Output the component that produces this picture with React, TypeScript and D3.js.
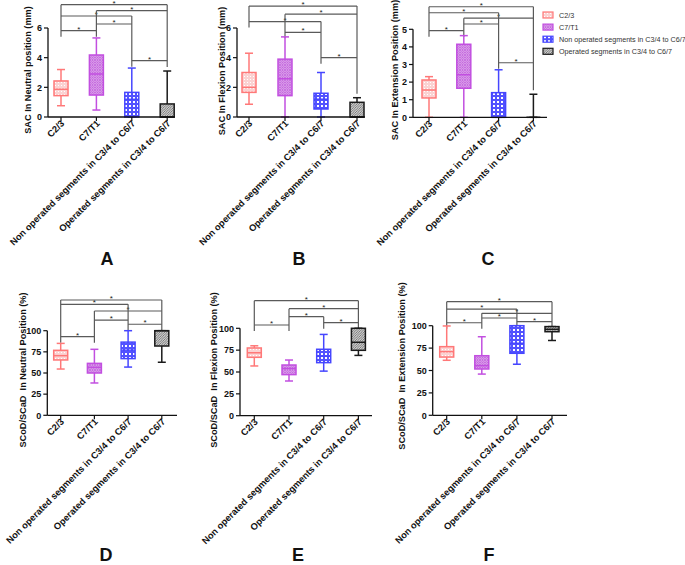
import React from 'react'
import * as d3 from 'd3'

// groups, in plotting order
const categories = [
  'C2/3',
  'C7/T1',
  'Non operated segments in C3/4 to C6/7',
  'Operated segments in C3/4 to C6/7'
]

// box stats per group: [min, q1, median, q3, max]
const sacNeutral = [[0.76, 1.44, 1.87, 2.43, 3.2], [0.47, 1.48, 2.9, 4.18, 5.33], [0, 0, 1.19, 1.66, 3.3], [0, 0, 0, 0.88, 3.1]]
const sacFlexion = [[0.86, 1.66, 2.0, 3.0, 4.3], [0, 1.44, 2.58, 3.9, 5.4], [0, 0.54, 1.2, 1.6, 3.0], [0, 0, 0, 0.99, 1.3]]
const sacExtension = [[0, 1.1, 1.55, 2.12, 2.31], [0, 1.65, 2.42, 4.15, 4.64], [0, 0, 0, 1.4, 2.7], [0, 0, 0, 0, 1.31]]
const scodNeutral = [[54.7, 65.4, 70.5, 76.8, 85], [38.2, 50, 56.7, 61.4, 78], [57, 67, 77, 86.5, 100], [62.7, 81.9, 100, 100, 100]]
const scodFlexion = [[56.9, 66.8, 72, 77.5, 80], [39.7, 47, 54, 58, 63.7], [51, 60.7, 68, 76, 93], [69, 74.8, 84, 100, 100]]
const scodExtension = [[61.4, 65, 71, 76.6, 99.7], [46, 51.7, 55.4, 66.5, 87.7], [57, 69.2, 80.4, 100, 100], [83.5, 93.3, 96, 99, 99]]

// significance brackets: [group a, group b, height in data units]
const sacNeutralPairs = [[0, 3, 7.57], [1, 3, 7.17], [0, 2, 6.81], [1, 2, 6.27], [0, 1, 5.82], [2, 3, 3.8]]
const sacFlexionPairs = [[0, 3, 7.48], [1, 3, 6.93], [0, 2, 6.43], [1, 2, 5.71], [2, 3, 4.0]]
const sacExtensionPairs = [[0, 3, 6.28], [0, 2, 5.94], [1, 3, 5.63], [1, 2, 5.3], [0, 1, 4.92], [2, 3, 3.1]]
const scodNeutralPairs = [[0, 3, 136.3], [0, 2, 131.2], [1, 3, 123.3], [1, 2, 112.6], [2, 3, 107.6], [0, 1, 92.9]]
const scodFlexionPairs = [[0, 3, 131.6], [1, 3, 122.4], [1, 2, 113.3], [2, 3, 106.4], [0, 1, 103.8]]
const scodExtensionPairs = [[0, 3, 126.8], [0, 2, 118.6], [1, 3, 113.8], [1, 2, 108.6], [2, 3, 104.5], [0, 1, 103.3]]

const sacTicks = [0, 2, 4, 6]
const sacExtTicks = [0, 1, 2, 3, 4, 5]
const pctTicks = [0, 25, 50, 75, 100]

const strokes = ['#ff7878', '#c24fe0', '#4646ff', '#1a1a1a']
const font = 'Liberation Sans, Arial, Helvetica, sans-serif'

const panels = [
  { letter: 'A', title: 'SAC In Neutral position (mm)', stats: sacNeutral, pairs: sacNeutralPairs, ticks: sacTicks,
    x0: 48, xEnd: 175, first: 61, step: 35.4, yBot: 117, yTop: 28, tx: 31, ty: 70, lx: 107, ly: 265 },
  { letter: 'B', title: 'SAC In Flexion Position (mm)', stats: sacFlexion, pairs: sacFlexionPairs, ticks: sacTicks,
    x0: 237, xEnd: 365, first: 249, step: 36, yBot: 117, yTop: 28, tx: 225, ty: 71, lx: 299, ly: 265 },
  { letter: 'C', title: 'SAC In Extension Position (mm)', stats: sacExtension, pairs: sacExtensionPairs, ticks: sacExtTicks,
    x0: 413, xEnd: 547, first: 429, step: 34.8, yBot: 117.3, yTop: 29.3, tx: 398, ty: 70, lx: 488, ly: 265 },
  { letter: 'D', title: 'SCoD/SCaD  In Neutral Position (%)', stats: scodNeutral, pairs: scodNeutralPairs, ticks: pctTicks,
    x0: 47.3, xEnd: 177, first: 60.7, step: 33.7, yBot: 415.3, yTop: 330.7, tx: 26, ty: 370, lx: 106, ly: 561 },
  { letter: 'E', title: 'SCoD/SCaD  In Flexion Position (%)', stats: scodFlexion, pairs: scodFlexionPairs, ticks: pctTicks,
    x0: 240, xEnd: 372, first: 254.3, step: 34.7, yBot: 415.7, yTop: 328.3, tx: 217, ty: 370, lx: 298, ly: 561 },
  { letter: 'F', title: 'SCoD/SCaD  In Extension Position (%)', stats: scodExtension, pairs: scodExtensionPairs, ticks: pctTicks,
    x0: 432.7, xEnd: 567, first: 446.7, step: 35.1, yBot: 415.3, yTop: 325.7, tx: 405, ty: 366, lx: 489, ly: 561 }
]

function Patterns() {
  return (
    <defs>
      <pattern id="p0" width="3" height="3" patternUnits="userSpaceOnUse">
        <rect width="3" height="3" fill="#fbd2d2" />
        <rect x="1" y="1" width="1" height="1" fill="#ffffff" />
      </pattern>
      <pattern id="p1" width="2.5" height="2.5" patternUnits="userSpaceOnUse">
        <rect width="2.5" height="2.5" fill="#e2aeee" />
        <path d="M0,0 L2.5,2.5 M0,2.5 L2.5,0" stroke="#b64ed6" strokeWidth="0.6" />
      </pattern>
      <pattern id="p2" width="4" height="4" patternUnits="userSpaceOnUse">
        <rect width="4" height="4" fill="#5252ff" />
        <rect x="1" y="1" width="2" height="2" fill="#ffffff" />
      </pattern>
      <pattern id="p3" width="2.4" height="2.4" patternUnits="userSpaceOnUse">
        <rect width="2.4" height="2.4" fill="#cfcfcf" />
        <path d="M0,2.4 L2.4,0 M-1,1 L1,-1 M1.4,3.4 L3.4,1.4" stroke="#555" strokeWidth="0.7" />
      </pattern>
    </defs>
  )
}

function Panel({ p }: { p: any }) {
  const x = d3.scalePoint<string>().domain(categories).range([p.first, p.first + p.step * 3])
  const y = d3.scaleLinear().domain([0, p.ticks[p.ticks.length - 1]]).range([p.yBot, p.yTop])
  const half = 7
  const cap = 4

  // vertical bracket legs: one line per group, from its highest bracket down past its lowest
  const legs = categories.map((c, i) => {
    const ys = p.pairs.filter((q: number[]) => q[0] === i || q[1] === i).map((q: number[]) => y(q[2]))
    if (!ys.length) return null
    const top = Math.min(...ys)
    let bot = Math.max(...ys) + 6
    if (i === categories.length - 1) bot = Math.max(bot, y(p.stats[i][4]) - 4)
    return <line key={'leg' + i} x1={x(c)} x2={x(c)} y1={top} y2={bot} stroke="#5a5a5a" strokeWidth={1.2} />
  })

  return (
    <g fontFamily={font}>
      {p.pairs.map((q: number[], k: number) => {
        const xa = x(categories[q[0]])!
        const xb = x(categories[q[1]])!
        const yy = y(q[2])
        return (
          <g key={'br' + k}>
            <line x1={xa} x2={xb} y1={yy} y2={yy} stroke="#5a5a5a" strokeWidth={1.2} />
            <text x={(xa + xb) / 2} y={yy + 1} fontSize={8} textAnchor="middle" fill="#222">*</text>
          </g>
        )
      })}
      {legs}

      {p.stats.map((s: number[], i: number) => {
        const cx = x(categories[i])!
        const [mn, q1, md, q3, mx] = s
        const col = strokes[i]
        return (
          <g key={'box' + i} stroke={col} strokeWidth={1.5}>
            <line x1={cx} x2={cx} y1={y(mx)} y2={y(q3)} />
            <line x1={cx} x2={cx} y1={y(q1)} y2={y(mn)} />
            <line x1={cx - cap} x2={cx + cap} y1={y(mx)} y2={y(mx)} />
            <line x1={cx - cap} x2={cx + cap} y1={y(mn)} y2={y(mn)} />
            <rect x={cx - half} y={y(q3)} width={half * 2} height={Math.max(0, y(q1) - y(q3))} fill={`url(#p${i})`} />
            <line x1={cx - half} x2={cx + half} y1={y(md)} y2={y(md)} />
          </g>
        )
      })}

      {/* axes */}
      <line x1={p.x0} x2={p.x0} y1={p.yBot} y2={p.yTop} stroke="#111" strokeWidth={1.3} />
      <line x1={p.x0} x2={p.xEnd} y1={p.yBot} y2={p.yBot} stroke="#111" strokeWidth={1.3} />
      {p.ticks.map((t: number) => (
        <g key={'t' + t}>
          <line x1={p.x0 - 4} x2={p.x0} y1={y(t)} y2={y(t)} stroke="#111" strokeWidth={1.2} />
          <text x={p.x0 - 6} y={y(t) + 3.2} fontSize={9} fontWeight="bold" textAnchor="end" fill="#111">{t}</text>
        </g>
      ))}
      {categories.map(c => (
        <g key={c}>
          <line x1={x(c)} x2={x(c)} y1={p.yBot} y2={p.yBot + 4} stroke="#111" strokeWidth={1.2} />
          <text transform={`translate(${x(c)! + 4},${p.yBot + 7}) rotate(-45)`} fontSize={9.3} fontWeight="bold"
            textAnchor="end" fill="#111">{c}</text>
        </g>
      ))}
      <text transform={`translate(${p.tx},${p.ty}) rotate(-90)`} fontSize={9.2} fontWeight="bold" textAnchor="middle"
        fill="#111" style={{ whiteSpace: 'pre' }}>{p.title}</text>
      <text x={p.lx} y={p.ly} fontSize={18} fontWeight="bold" textAnchor="middle" fill="#111">{p.letter}</text>
    </g>
  )
}

export default function App() {
  return (
    <div style={{ position: 'absolute', left: 0, top: 0 }}>
      <svg width={685} height={565} style={{ display: 'block', background: '#fff' }}>
        <Patterns />
        {panels.map(p => <Panel key={p.letter} p={p} />)}
        <g fontFamily={font}>
          {categories.map((c, i) => (
            <g key={'lg' + i} transform={`translate(543,${15 + i * 12.1})`}>
              <rect x={0} y={-3} width={10} height={6} fill={`url(#p${i})`} stroke={strokes[i]} strokeWidth={1.2} />
              <text x={16} y={2.6} fontSize={7.2} fill="#333">{c}</text>
            </g>
          ))}
        </g>
      </svg>
    </div>
  )
}
